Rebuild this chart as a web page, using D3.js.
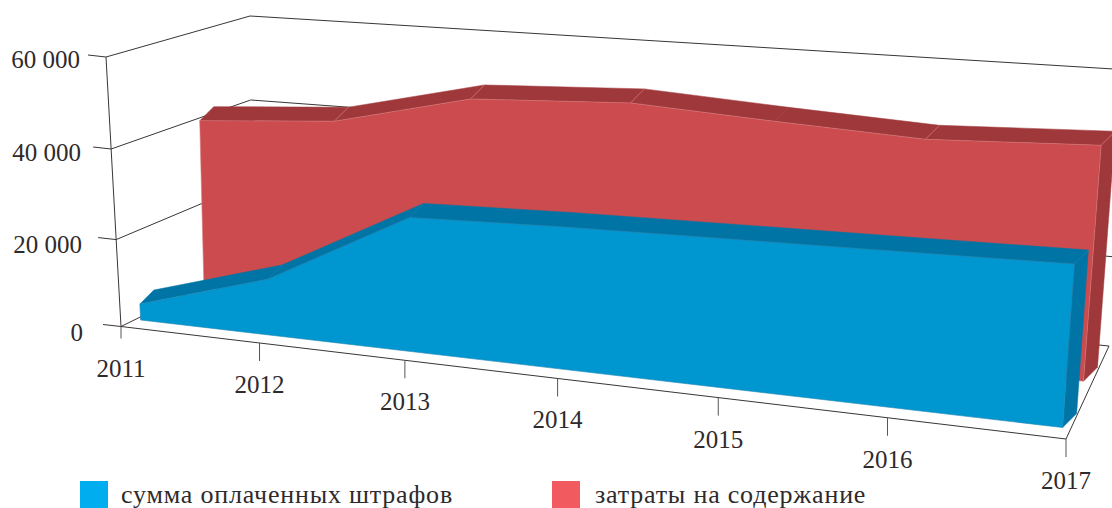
<!DOCTYPE html>
<html><head><meta charset="utf-8">
<script src="https://cdnjs.cloudflare.com/ajax/libs/d3/7.8.5/d3.min.js"></script>
<style>html,body{margin:0;padding:0;background:#fff}svg{display:block}text{font-family:"Liberation Serif",serif;fill:#2f2a2b}</style>
</head><body><svg id="c" width="1112" height="508"></svg>
<script>
const years=[2011,2012,2013,2014,2015,2016,2017];
const valueTicks=[0,20000,40000,60000];
const valueLabels=["0","20 000","40 000","60 000"];
const fines=[3900,12900,29400,30400,31050,31700,32400];
const costs=[39750,42000,49240,50870,49150,47700,49100];
const legendLabels=["сумма оплаченных штрафов","затраты на содержание"];

// projection frame: floor and top plane corners (front-left, front-right, back-right, back-left)
const floorQuad=[[121,326.5],[1066,439],[1109,346],[252,262]];
const topQuad=[[106,57],[1088,126],[1130,70],[250,16]];
function homography(q){
  const [[x0,y0],[x1,y1],[x2,y2],[x3,y3]]=q;
  const dx1=x1-x2,dx2=x3-x2,sx=x0-x1+x2-x3,dy1=y1-y2,dy2=y3-y2,sy=y0-y1+y2-y3;
  const den=dx1*dy2-dx2*dy1,g=(sx*dy2-dx2*sy)/den,h=(dx1*sy-sx*dy1)/den;
  const a=x1-x0+g*x1,b=x3-x0+h*x3,d=y1-y0+g*y1,e=y3-y0+h*y3;
  return (u,w)=>{const t=g*u+h*w+1;return [(a*u+b*w+x0)/t,(d*u+e*w+y0)/t];};
}
const floorH=homography(floorQuad),topH=homography(topQuad);
const uScale=d3.scalePoint().domain(years).range([0,1]);
// front axis foreshortening differs slightly from the frame's
const tickU=u=>{const y=u/(1+0.1626*(1-u));return y*1.255/(1+0.255*y);};
const finesU=d3.scaleLinear().domain(years).range([.007,.1717,.3363,.501,.6657,.8303,.993]);
const costsU=d3.scaleLinear().domain(years).range([.005,.1752,.3363,.5157,.6704,.8239,.992]);
const vScale=d3.scalePow().exponent(1.03).domain([0,60000]).range([0,1]);
function project(u,v,w){
  const b=floorH(u,w),t=topH(u,w),f=vScale(v);
  return [b[0]+(t[0]-b[0])*f,b[1]+(t[1]-b[1])*f];
}
const svg=d3.select("#c");
const line=d3.line();
const ink="#3a3536";
function seg(a,b,g,c){g.append("path").attr("d",line([a,b])).attr("stroke",c||ink).attr("stroke-width",1).attr("fill","none");}

// grid
const grid=svg.append("g");
valueTicks.forEach(v=>{
  seg(project(0,v,1),project(1,v,1),grid);
  seg(project(0,v,0),project(0,v,1),grid);
});
seg(project(1,0,0),project(1,0,1),grid);
seg(project(0,0,0),project(1,0,0),grid);
seg(project(0,0,0),project(0,60000,0),grid);
// value ticks + labels
valueTicks.forEach((v,i)=>{
  const p=project(0,v,0),r=1-v/60000;
  seg([p[0]-18,p[1]-2],p,grid);
  svg.append("text").attr("x",80+r*3).attr("y",p[1]+11+r*3).attr("text-anchor","end").attr("font-size",25).text(valueLabels[i]);
});
// year ticks + labels
years.forEach((y,i)=>{
  const p=project(tickU(uScale(y)),0,0);
  seg(p,[p[0],p[1]+(i===0?12:18)],grid,"#555");
  svg.append("text").attr("x",p[0]).attr("y",p[1]+50).attr("text-anchor","middle").attr("font-size",25).text(y);
});

// series
const depth=[14,-14];
const back=p=>[p[0]+depth[0],p[1]+depth[1]];
function area(vals,xs,w,front,dark,edge){
  const g=svg.append("g");
  const tops=years.map((y,i)=>project(xs(y),vals[i],w));
  const base0=project(xs(years[0]),0,w),base1=project(xs(years[years.length-1]),0,w);
  const last=tops[tops.length-1];
  g.append("path").attr("d",line([last,back(last),back(base1),base1])+"Z").attr("fill",dark).attr("stroke",dark).attr("stroke-width",.5);
  g.selectAll(null).data(d3.pairs(tops)).join("path")
    .attr("d",d=>line([d[0],d[1],back(d[1]),back(d[0])])+"Z").attr("fill",dark).attr("stroke",dark).attr("stroke-width",.5);
  const slope=(a,b)=>(b[1]-a[1])/(b[0]-a[0]);
  const seams=tops.filter((p,i)=>i===tops.length-1||(i>0&&Math.abs(slope(tops[i-1],p)-slope(p,tops[i+1]))>0.02));
  g.selectAll(null).data(seams).join("path")
    .attr("d",d=>line([d,back(d)])).attr("stroke",edge).attr("stroke-width",.6).attr("fill","none");
  g.append("path").attr("d",line([base0,...tops,base1])+"Z").attr("fill",front).attr("stroke",edge).attr("stroke-width",.6);
}
area(costs,costsU,0.58,"#cb4b4e","#9f383a","#d9797b");
area(fines,finesU,0.10,"#0096cf","#0075a5","#1f86b4");

// legend
[["#00aeef",80,121],["#f15a5f",552,595]].forEach((d,i)=>{
  svg.append("rect").attr("x",d[1]).attr("y",481).attr("width",28).attr("height",27).attr("fill",d[0]);
  svg.append("text").attr("x",d[2]).attr("y",503).attr("font-size",26).attr("letter-spacing",0.8).text(legendLabels[i]);
});
</script></body></html>
